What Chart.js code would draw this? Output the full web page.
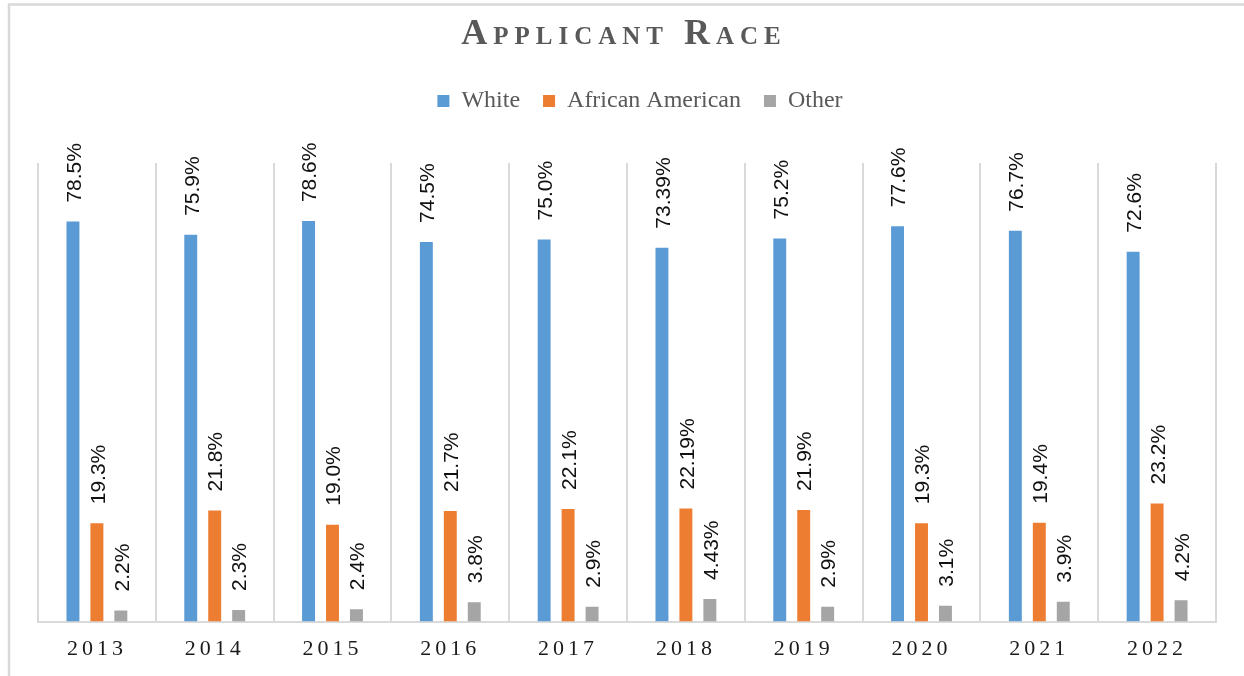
<!DOCTYPE html>
<html>
<head>
<meta charset="utf-8">
<script src="https://cdn.jsdelivr.net/npm/chart.js@4.4.1/dist/chart.umd.min.js"></script>
<style>
  html, body { margin: 0; padding: 0; background: #ffffff; }
  canvas { display: block; }
</style>
</head>
<body>
<canvas id="chart" width="1244" height="676"></canvas>
<script>
// ---- data ----
const categories = ['2013', '2014', '2015', '2016', '2017', '2018', '2019', '2020', '2021', '2022'];
const seriesNames = ['White', 'African American', 'Other'];
const whiteValues = [78.5, 75.9, 78.6, 74.5, 75.0, 73.39, 75.2, 77.6, 76.7, 72.6];
const africanAmericanValues = [19.3, 21.8, 19.0, 21.7, 22.1, 22.19, 21.9, 19.3, 19.4, 23.2];
const otherValues = [2.2, 2.3, 2.4, 3.8, 2.9, 4.43, 2.9, 3.1, 3.9, 4.2];
const whiteLabels = ['78.5%', '75.9%', '78.6%', '74.5%', '75.0%', '73.39%', '75.2%', '77.6%', '76.7%', '72.6%'];
const africanAmericanLabels = ['19.3%', '21.8%', '19.0%', '21.7%', '22.1%', '22.19%', '21.9%', '19.3%', '19.4%', '23.2%'];
const otherLabels = ['2.2%', '2.3%', '2.4%', '3.8%', '2.9%', '4.43%', '2.9%', '3.1%', '3.9%', '4.2%'];
const titleText = 'Applicant Race';

// ---- styling ----
const COLORS = ['#5B9BD5', '#ED7D31', '#A5A5A5'];
const GRID = '#d9d9d9';
const TITLE_SPACING = 6;
const TITLE_SHIFT = -3;
const TICK_SPACING = 4;
const LEGEND_BLOCK_HEIGHT = 97;
const LEGEND_SHIFT = 13;
const LABEL_GAP = 19;

class SpacedCategoryScale extends Chart.CategoryScale {
  static id = 'spacedCategory';
  drawLabels(area) {
    const ctx = this.ctx;
    ctx.save();
    ctx.letterSpacing = TICK_SPACING + 'px';
    super.drawLabels(area);
    ctx.restore();
  }
}
Chart.register(SpacedCategoryScale);

const layoutTweaks = {
  id: 'layoutTweaks',
  beforeLayout(chart) {
    const lg = chart.legend;
    if (lg && !lg._tweaked) {
      const fit = lg.fit;
      lg.fit = function () { fit.call(this); this.height = LEGEND_BLOCK_HEIGHT; };
      const draw = lg.draw;
      lg.draw = function () {
        const c = this.ctx;
        c.save();
        c.translate(LEGEND_SHIFT, 0);
        draw.call(this);
        c.restore();
      };
      lg._tweaked = true;
    }
    const tb = chart.titleBlock;
    if (tb && !tb._tweaked) {
      const draw = tb.draw;
      tb.draw = function () {
        const c = this.ctx;
        c.save();
        c.translate(TITLE_SHIFT, 0);
        c.letterSpacing = TITLE_SPACING + 'px';
        draw.call(this);
        c.restore();
      };
      tb._tweaked = true;
    }
  },
  beforeDraw(chart) {
    const ctx = chart.ctx;
    ctx.save();
    ctx.fillStyle = '#ffffff';
    ctx.fillRect(0, 0, chart.width, chart.height);
    ctx.strokeStyle = GRID;
    ctx.lineWidth = 2.5;
    ctx.strokeRect(9, 4.5, chart.width + 50, chart.height + 50);
    ctx.restore();
  }
};

const valueLabels = {
  id: 'valueLabels',
  afterDatasetsDraw(chart) {
    const ctx = chart.ctx;
    ctx.save();
    ctx.font = '21px "Liberation Sans", Arial, sans-serif';
    ctx.fillStyle = '#111111';
    ctx.textAlign = 'left';
    ctx.textBaseline = 'middle';
    chart.data.datasets.forEach((ds, di) => {
      const meta = chart.getDatasetMeta(di);
      meta.data.forEach((bar, i) => {
        ctx.save();
        ctx.translate(bar.x + 2, bar.y - LABEL_GAP);
        ctx.rotate(-Math.PI / 2);
        ctx.fillText(ds.valueText[i], 0, 0);
        ctx.restore();
      });
    });
    ctx.restore();
  }
};

const datasets = [
  { label: seriesNames[0], data: whiteValues, valueText: whiteLabels },
  { label: seriesNames[1], data: africanAmericanValues, valueText: africanAmericanLabels },
  { label: seriesNames[2], data: otherValues, valueText: otherLabels }
].map((d, i) => Object.assign(d, {
  backgroundColor: COLORS[i],
  borderWidth: 0,
  categoryPercentage: 0.61,
  barPercentage: 0.54
}));

new Chart(document.getElementById('chart'), {
  type: 'bar',
  data: { labels: categories, datasets },
  options: {
    responsive: false,
    animation: false,
    devicePixelRatio: 1,
    layout: { padding: { top: 4, left: 38, right: 28, bottom: 0 } },
    plugins: {
      title: {
        display: true,
        text: titleText,
        color: '#595959',
        font: { family: "'Liberation Serif', 'Times New Roman', serif", size: 36, weight: 'small-caps bold', lineHeight: 1.2 },
        padding: { top: 9, bottom: 9.8 }
      },
      legend: {
        display: true,
        position: 'top',
        labels: {
          boxWidth: 12,
          boxHeight: 12,
          padding: 23,
          color: '#595959',
          font: { family: "'Liberation Serif', 'Times New Roman', serif", size: 24 }
        }
      },
      tooltip: { enabled: false }
    },
    scales: {
      x: {
        type: 'spacedCategory',
        offset: true,
        grid: { display: true, offset: true, color: GRID, lineWidth: 2, drawTicks: false },
        border: { display: true, color: GRID, width: 2 },
        ticks: {
          color: '#1a1a1a',
          padding: 14,
          font: { family: "'Liberation Serif', 'Times New Roman', serif", size: 22 }
        }
      },
      y: {
        display: false,
        min: 0,
        max: 90
      }
    }
  },
  plugins: [layoutTweaks, valueLabels]
});
</script>
</body>
</html>
